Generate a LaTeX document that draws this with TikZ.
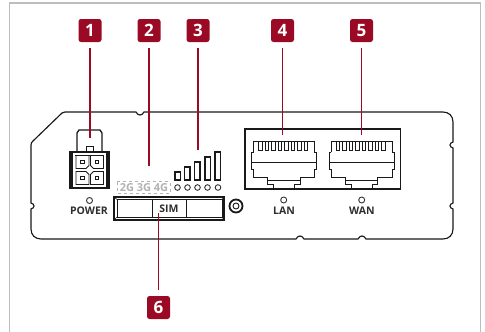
\documentclass[tikz,border=0pt]{standalone}
\usepackage{fontspec}
\usepackage{xcolor}
\setmainfont{Open Sans}
\definecolor{badgered}{HTML}{9B0A24}
\definecolor{labelgray}{HTML}{2E2E2E}
\definecolor{framegray}{HTML}{BDBDBD}
\usetikzlibrary{calc, positioning}

\tikzset{
    badge/.style={fill=badgered, rounded corners=2.5pt, minimum size=23pt, inner sep=0pt,
        text=white, font=\fontsize{17}{17}\selectfont\bfseries},
    leader/.style={draw=badgered, line width=1.1pt, shorten <=6pt},
    portlabel/.style={text=labelgray, inner sep=0pt, font=\fontsize{10.5}{10.5}\selectfont\bfseries},
    ledlamp/.style={draw=black!80, line width=0.9pt},
    outline/.style={draw=black!90, line width=1.15pt},
    netmark/.style={text=black!30, inner sep=0pt, font=\fontsize{11}{11}\selectfont\bfseries},
}

\begin{document}
\begin{tikzpicture}[x=1pt, y=-1pt]

    \useasboundingbox (0,0) rectangle (485,332);

    % =================================================================
    % 1. OUTER FRAME
    % =================================================================
    \draw[framegray, line width=1.5pt] (9.5,332) -- (9.5,3) -- (480.5,3) -- (480.5,332);

    % =================================================================
    % 2. HOUSING WITH CHAMFER AND NOTCHES
    % =================================================================
    \draw[outline]
        (65,112) -- (136,112) .. controls (138,116) and (142,116) .. (144,112)
        -- (443,112) .. controls (449,112) and (453,116) .. (453,122)
        -- (453,142) .. controls (449,143) and (449,147) .. (453,148)
        -- (453,203) .. controls (449,204) and (449,208) .. (453,209)
        -- (453,229) .. controls (453,235) and (449,239) .. (443,239)
        -- (366,239) .. controls (364,235) and (360,235) .. (358,239)
        -- (304,239) .. controls (302,235) and (298,235) .. (296,239)
        -- (41,239) .. controls (35,239) and (31,235) .. (31,229)
        -- (31,209) .. controls (35,208) and (35,204) .. (31,203)
        -- (31,145) .. controls (31,143) and (32,142) .. (33,141)
        -- (62,113) .. controls (63,112) and (64,112) .. (65,112);

    % =================================================================
    % 3. POWER CONNECTOR
    % =================================================================
    % Latch
    \draw[outline, line width=1.3pt] (77,152) -- (77,133) -- (79,130) -- (100,130) -- (102,133) -- (102,152);
    \draw[outline, line width=0.8pt] (86,152) -- (86,146) -- (93,146) -- (93,152);
    % Body
    \draw[outline, line width=1.3pt] (70,152) rectangle (109,188);
    \draw[outline, line width=1.8pt] (72,152) -- (72,188) (107,152) -- (107,188);
    \draw[outline, line width=0.8pt] (75,155) -- (104,155);
    % Pin cells
    \foreach \cx/\cy/\sx/\sy in {82.5/162/1/1, 97/162/-1/1, 82.5/178/1/-1, 97/178/-1/-1} {
        \draw[outline, line width=0.9pt]
            (\cx-\sx*6.5,\cy-\sy*6.5) -- (\cx+\sx*6.5,\cy-\sy*6.5) -- (\cx+\sx*6.5,\cy+\sy*3.5)
            -- (\cx+\sx*3.5,\cy+\sy*6.5) -- (\cx-\sx*6.5,\cy+\sy*6.5) -- cycle;
        \draw[outline, line width=0.9pt] (\cx-1.8,\cy-1.8) rectangle (\cx+1.8,\cy+1.8);
    }

    % =================================================================
    % 4. SIGNAL BARS, LAMPS AND NETWORK MARKS
    % =================================================================
    \foreach \bx/\by in {175/172, 184.5/167, 194.5/162, 205/157, 215/152} {
        \draw[outline] (\bx,\by) rectangle (\bx+5.5,180);
    }
    \foreach \lx in {177.5, 187.5, 197.5, 207.5, 218} {
        \draw[ledlamp] (\lx,187.5) circle[radius=2.8pt];
    }
    \draw[black!30, dashed, line width=1pt] (117,181.5) rectangle (170,193);
    \node[netmark] (mark2g) at (127,187.5) {2G};
    \node[netmark] (mark3g) at (144,187.5) {3G};
    \node[netmark] (mark4g) at (161,187.5) {4G};

    % =================================================================
    % 5. SIM TRAY AND SCREW
    % =================================================================
    \draw[outline, line width=1.3pt] (114,197) rectangle (224,220);
    \draw[outline, line width=0.9pt] (117,199.5) rectangle (222,217);
    \draw[outline, line width=0.6pt] (114,197) -- (117,199.5) (224,197) -- (222,199.5)
        (114,220) -- (117,217) (224,220) -- (222,217);
    \draw[outline, line width=0.9pt] (152,199.5) -- (152,217) (186,199.5) -- (186,217);
    \node[portlabel] (simlabel) at (169,208.5) {SIM};
    \draw[outline, line width=1.8pt] (236,206) circle[radius=6.5pt];
    \draw[outline, line width=0.9pt] (236,206) circle[radius=3pt];

    % =================================================================
    % 6. NETWORK PORTS
    % =================================================================
    \draw[outline] (245,129) rectangle (400.5,189);
    \foreach \jx in {0, 77.8} {
        \begin{scope}[shift={(\jx,0)}]
            \draw[outline, line width=1pt]
                (253.5,152) -- (253.5,141.5) -- (314.5,141.5) -- (314.5,152) -- (316.5,152) -- (316.5,169)
                -- (314.5,169) -- (314.5,177.5) -- (300,177.5) -- (300,184) -- (294.5,184) -- (294.5,189);
            \draw[outline, line width=1pt]
                (253.5,152) -- (251.5,152) -- (251.5,169) -- (253.5,169) -- (253.5,177.5) -- (267.5,177.5)
                -- (267.5,184) -- (273.5,184) -- (273.5,189);
            \draw[outline, line width=1pt] (251.5,162.5) -- (316.5,162.5) (267.5,180) -- (300,180);
            % Contact pins
            \foreach \px in {0,...,7} {
                \draw[outline, line width=0.9pt] (258.5+\px*6.5,141.5) -- (258.5+\px*6.5,150)
                    -- (262+\px*6.5,150) -- (262+\px*6.5,141.5);
            }
        \end{scope}
    }

    % =================================================================
    % 7. PORT LAMPS AND LABELS
    % =================================================================
    \draw[ledlamp] (89.5,200.5) circle[radius=3pt];
    \draw[ledlamp] (283.7,200) circle[radius=3pt];
    \draw[ledlamp] (361.7,200) circle[radius=3pt];
    \node[portlabel] (powerlabel) at (89,211) {POWER};
    \node[portlabel] (lanlabel) at (284,211) {LAN};
    \node[portlabel] (wanlabel) at (362,211) {WAN};

    % =================================================================
    % 8. NUMBERED BADGES AND LEADERS
    % =================================================================
    \foreach \num/\bx/\by/\ty in {1/90/30.5/138, 2/149/30.5/166, 3/198/30.5/150, 4/282.5/30.5/135, 5/361.5/30.5/135, 6/158.5/307.5/213} {
        \node[badge] (badge\num) at (\bx,\by) {\num};
        \coordinate (tip\num) at (\bx,\ty);
        \draw[leader] (badge\num) -- (tip\num);
    }

\end{tikzpicture}
\end{document}
